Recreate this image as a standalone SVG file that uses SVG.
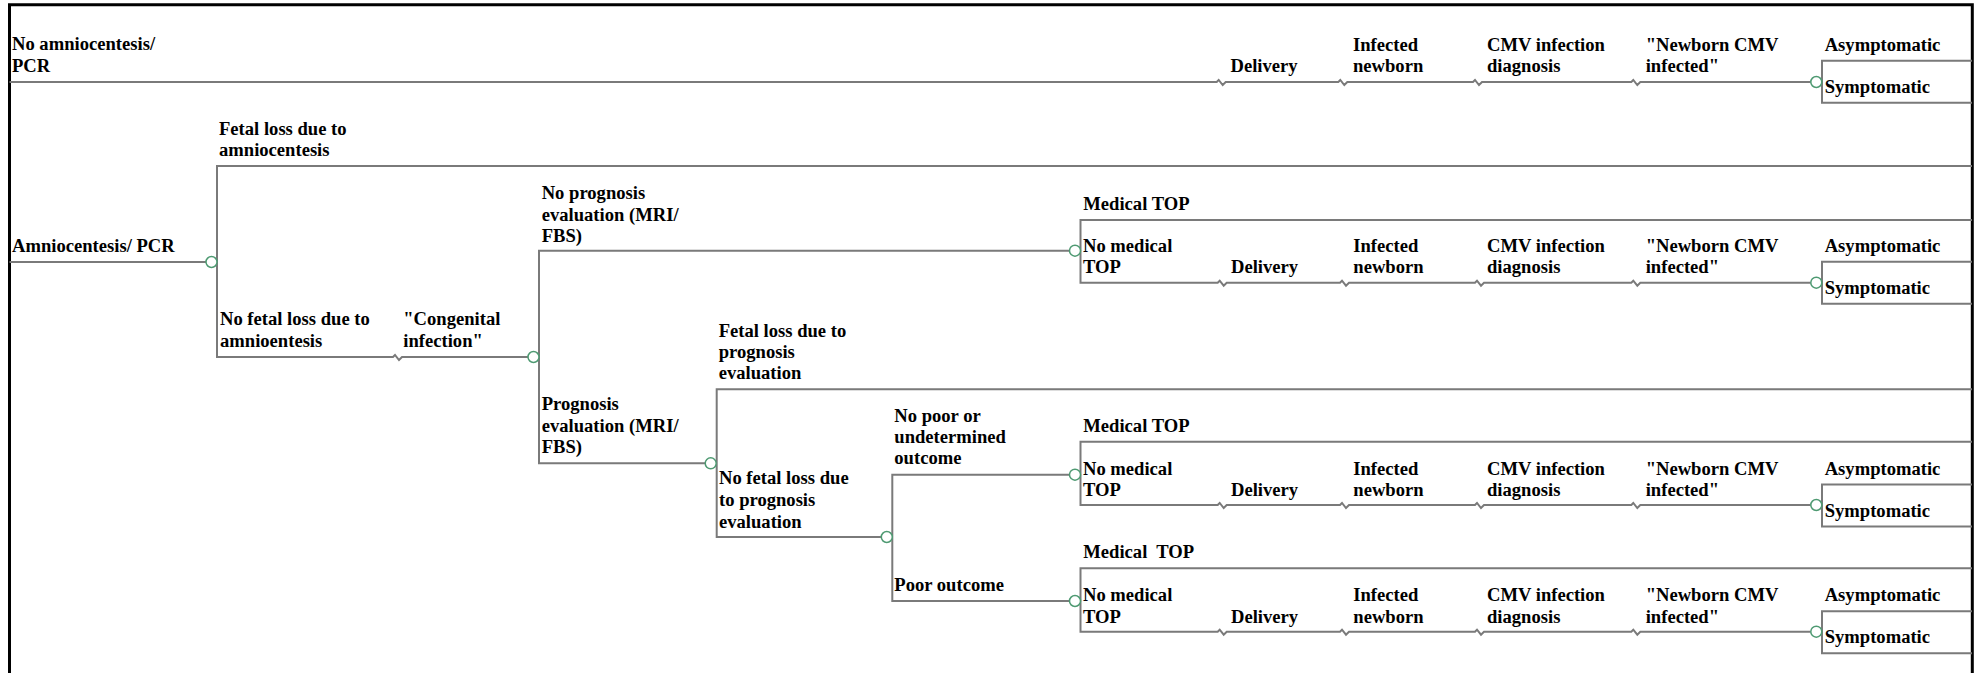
<svg xmlns="http://www.w3.org/2000/svg" width="1978" height="673" viewBox="0 0 1978 673">
<style>
.t{font-family:"Liberation Serif","Times New Roman",serif;font-weight:bold;font-size:18.6px;fill:#000}
.ln{fill:none;stroke:#7a7a7a;stroke-width:2;stroke-linejoin:miter}
.cn{fill:#fff;stroke:#4e9a72;stroke-width:1.5}
.frame{fill:none;stroke:#000;stroke-width:3}
</style>
<rect width="1978" height="673" fill="#fff"/>
<path class="frame" d="M9.5,673 V4.7 H1972.3 V673"/>

<g id="connectors">
  <!-- No amniocentesis branch -->
  <path class="ln" d="M9.5,82 H1216.7 l2,-2 l4,5 l3,-3 H1338.3 l2,-2 l4,5 l3,-3 H1473 l2,-2 l4,5 l3,-3 H1631.3 l2,-2 l4,5 l3,-3 H1810.8"/>
  <path class="ln" d="M1972,60.7 H1822 V102.7 H1972"/>
  <!-- Amniocentesis branch -->
  <path class="ln" d="M9.5,262 H206"/>
  <path class="ln" d="M1972,166 H217 V357 H393 l2,-2 l4,5 l3,-3 H528"/>
  <path class="ln" d="M1069.5,250.7 H539 V463.3 H705.2"/>
  <path class="ln" d="M1972,389.3 H716.7 V537 H881.3"/>
  <path class="ln" d="M1069.5,474.7 H892.3 V601 H1069.5"/>
  <!-- Medical TOP subtree 1 -->
  <path class="ln" d="M1972,220 H1080.5 V282.7 H1217.7 l2,-2 l4,5 l3,-3 H1340 l2,-2 l4,5 l3,-3 H1475 l2,-2 l4,5 l3,-3 H1631.3 l2,-2 l4,5 l3,-3 H1810.8"/>
  <path class="ln" d="M1972,261.7 H1822 V303.7 H1972"/>
  <!-- Medical TOP subtree 2 -->
  <path class="ln" d="M1972,441.7 H1080.5 V505 H1217.7 l2,-2 l4,5 l3,-3 H1340 l2,-2 l4,5 l3,-3 H1475 l2,-2 l4,5 l3,-3 H1631.3 l2,-2 l4,5 l3,-3 H1810.8"/>
  <path class="ln" d="M1972,484.5 H1822 V526.5 H1972"/>
  <!-- Medical TOP subtree 3 -->
  <path class="ln" d="M1972,568.3 H1080.5 V631.7 H1217.7 l2,-2 l4,5 l3,-3 H1340 l2,-2 l4,5 l3,-3 H1475 l2,-2 l4,5 l3,-3 H1631.3 l2,-2 l4,5 l3,-3 H1810.8"/>
  <path class="ln" d="M1972,611.2 H1822 V653.2 H1972"/>
</g>

<g id="branch-no-amnio">
  <text class="t" x="12" y="50">No amniocentesis/</text>
  <text class="t" x="12" y="71.7">PCR</text>
  <text class="t" x="1230.5" y="72.3">Delivery</text>
  <text class="t" x="1353" y="50.5">Infected</text>
  <text class="t" x="1353" y="72.3">newborn</text>
  <text class="t" x="1487" y="51">CMV infection</text>
  <text class="t" x="1487" y="72.3">diagnosis</text>
  <text class="t" x="1645.7" y="51">"Newborn CMV</text>
  <text class="t" x="1645.7" y="72.3">infected"</text>
</g>
<g id="node-symptoms-1">
  <circle class="cn" cx="1816.3" cy="82" r="5.5"/>
  <text class="t" x="1824.7" y="51">Asymptomatic</text>
  <text class="t" x="1824.7" y="92.7">Symptomatic</text>
</g>

<g id="branch-amnio">
  <text class="t" x="12" y="252">Amniocentesis/ PCR</text>
</g>
<g id="node-amnio">
  <circle class="cn" cx="211.5" cy="262" r="5.5"/>
  <text class="t" x="219" y="135">Fetal loss due to</text>
  <text class="t" x="219" y="156">amniocentesis</text>
  <text class="t" x="220" y="325">No fetal loss due to</text>
  <text class="t" x="220" y="346.7">amnioentesis</text>
  <text class="t" x="403.3" y="325">"Congenital</text>
  <text class="t" x="403.3" y="346.7">infection"</text>
</g>
<g id="node-prognosis">
  <circle class="cn" cx="533.5" cy="357" r="5.5"/>
  <text class="t" x="541.7" y="199.3">No prognosis</text>
  <text class="t" x="541.7" y="220.5">evaluation (MRI/</text>
  <text class="t" x="541.7" y="242">FBS)</text>
  <text class="t" x="541.7" y="410">Prognosis</text>
  <text class="t" x="541.7" y="431.7">evaluation (MRI/</text>
  <text class="t" x="541.7" y="453.3">FBS)</text>
</g>
<g id="node-prognosis-loss">
  <circle class="cn" cx="710.7" cy="463.3" r="5.5"/>
  <text class="t" x="718.7" y="336.7">Fetal loss due to</text>
  <text class="t" x="718.7" y="358">prognosis</text>
  <text class="t" x="718.7" y="379">evaluation</text>
  <text class="t" x="719" y="484.3">No fetal loss due</text>
  <text class="t" x="719" y="506">to prognosis</text>
  <text class="t" x="719" y="527.7">evaluation</text>
</g>
<g id="node-outcome">
  <circle class="cn" cx="886.8" cy="537" r="5.5"/>
  <text class="t" x="894.3" y="421.7">No poor or</text>
  <text class="t" x="894.3" y="443.3">undetermined</text>
  <text class="t" x="894.3" y="464.3">outcome</text>
  <text class="t" x="894.3" y="590.7">Poor outcome</text>
</g>

<g id="node-top-1">
  <circle class="cn" cx="1075" cy="250.7" r="5.5"/>
  <text class="t" x="1083.3" y="210">Medical TOP</text>
  <text class="t" x="1083" y="251.7">No medical</text>
  <text class="t" x="1083" y="273.3">TOP</text>
  <text class="t" x="1231" y="273.3">Delivery</text>
  <text class="t" x="1353.3" y="251.7">Infected</text>
  <text class="t" x="1353.3" y="273.3">newborn</text>
  <text class="t" x="1487" y="251.7">CMV infection</text>
  <text class="t" x="1487" y="273.3">diagnosis</text>
  <text class="t" x="1645.7" y="251.7">"Newborn CMV</text>
  <text class="t" x="1645.7" y="273.3">infected"</text>
</g>
<g id="node-symptoms-2">
  <circle class="cn" cx="1816.3" cy="282.7" r="5.5"/>
  <text class="t" x="1824.7" y="252.3">Asymptomatic</text>
  <text class="t" x="1824.7" y="294.3">Symptomatic</text>
</g>

<g id="node-top-2">
  <circle class="cn" cx="1075" cy="474.7" r="5.5"/>
  <text class="t" x="1083.3" y="431.7">Medical TOP</text>
  <text class="t" x="1083" y="474.5">No medical</text>
  <text class="t" x="1083" y="496.2">TOP</text>
  <text class="t" x="1231" y="496.2">Delivery</text>
  <text class="t" x="1353.3" y="474.5">Infected</text>
  <text class="t" x="1353.3" y="496.2">newborn</text>
  <text class="t" x="1487" y="474.5">CMV infection</text>
  <text class="t" x="1487" y="496.2">diagnosis</text>
  <text class="t" x="1645.7" y="474.5">"Newborn CMV</text>
  <text class="t" x="1645.7" y="496.2">infected"</text>
</g>
<g id="node-symptoms-3">
  <circle class="cn" cx="1816.3" cy="505" r="5.5"/>
  <text class="t" x="1824.7" y="475">Asymptomatic</text>
  <text class="t" x="1824.7" y="516.7">Symptomatic</text>
</g>

<g id="node-top-3">
  <circle class="cn" cx="1075" cy="601" r="5.5"/>
  <text class="t" x="1083.3" y="558.3" xml:space="preserve">Medical  TOP</text>
  <text class="t" x="1083" y="601.2">No medical</text>
  <text class="t" x="1083" y="622.8">TOP</text>
  <text class="t" x="1231" y="622.8">Delivery</text>
  <text class="t" x="1353.3" y="601.2">Infected</text>
  <text class="t" x="1353.3" y="622.8">newborn</text>
  <text class="t" x="1487" y="601.2">CMV infection</text>
  <text class="t" x="1487" y="622.8">diagnosis</text>
  <text class="t" x="1645.7" y="601.2">"Newborn CMV</text>
  <text class="t" x="1645.7" y="622.8">infected"</text>
</g>
<g id="node-symptoms-4">
  <circle class="cn" cx="1816.3" cy="631.7" r="5.5"/>
  <text class="t" x="1824.7" y="600.5">Asymptomatic</text>
  <text class="t" x="1824.7" y="643">Symptomatic</text>
</g>
</svg>
